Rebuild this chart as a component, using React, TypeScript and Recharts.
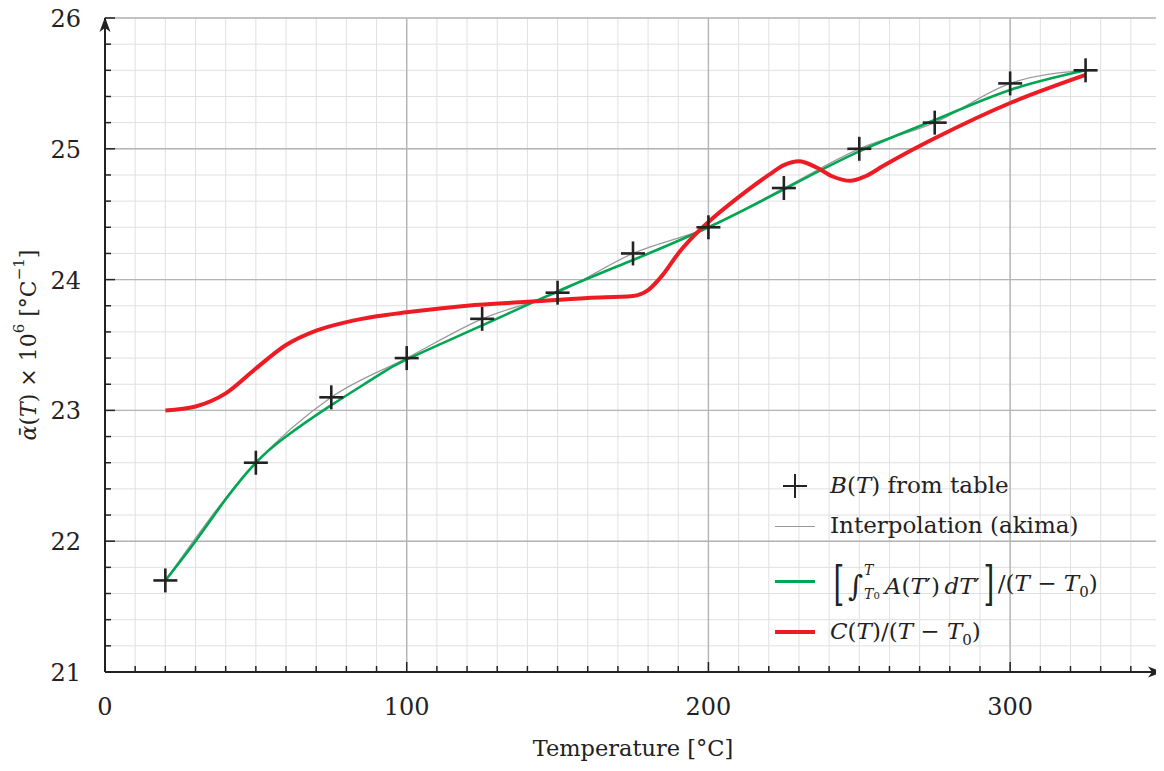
import React from 'react';
import {
  ComposedChart, Line, Scatter, XAxis, YAxis, CartesianGrid, ReferenceLine, ReferenceDot,
} from 'recharts';

// Table values B(T)
const tableT = [20, 50, 75, 100, 125, 150, 175, 200, 225, 250, 275, 300, 325];
const tableB = [21.7, 22.6, 23.1, 23.4, 23.7, 23.9, 24.2, 24.4, 24.7, 25.0, 25.2, 25.5, 25.6];

// Integral mean (green)
const greenT = [20, 30, 40, 50, 60, 75, 90, 100, 125, 150, 175, 200, 225, 250, 275, 300, 325];
const greenV = [21.7, 22.0, 22.32, 22.6, 22.8, 23.04, 23.26, 23.39, 23.65, 23.91, 24.15, 24.4, 24.69, 24.98, 25.22, 25.45, 25.6];

// C(T)/(T-T0) (red)
const redT = [20, 30, 40, 50, 60, 70, 80, 90, 100, 120, 140, 160, 175, 180, 185, 190, 195, 200, 210, 220, 225, 230, 236, 241, 247, 252, 258, 265, 275, 300, 325];
const redV = [23.0, 23.03, 23.13, 23.32, 23.5, 23.61, 23.675, 23.72, 23.75, 23.8, 23.83, 23.86, 23.875, 23.92, 24.04, 24.2, 24.33, 24.44, 24.63, 24.8, 24.875, 24.905, 24.855, 24.79, 24.755, 24.79, 24.87, 24.96, 25.08, 25.35, 25.565];

const xTicks = [0, 10, 20, 30, 40, 50, 60, 70, 80, 90, 100, 110, 120, 130, 140, 150, 160, 170, 180, 190, 200, 210, 220, 230, 240, 250, 260, 270, 280, 290, 300, 310, 320, 330, 340];
const yTicks = [21, 21.2, 21.4, 21.6, 21.8, 22, 22.2, 22.4, 22.6, 22.8, 23, 23.2, 23.4, 23.6, 23.8, 24, 24.2, 24.4, 24.6, 24.8, 25, 25.2, 25.4, 25.6, 25.8, 26];
const xMajor = [100, 200, 300];
const yMajor = [22, 23, 24, 25, 26];

const tableData = tableT.map((T, i) => ({ T, B: tableB[i] }));
const greenData = greenT.map((T, i) => ({ T, v: greenV[i] }));
const redData = redT.map((T, i) => ({ T, v: redV[i] }));

const FONT = '"DejaVu Serif", "Liberation Serif", serif';
const INK = '#222';

const XTick = (props: any) => {
  const { x, y, payload } = props;
  const v = payload.value;
  const major = Math.abs(v % 100) < 1e-6;
  return (
    <g>
      <line x1={x} x2={x} y1={y} y2={y - (major ? 10 : 6)} stroke={INK} strokeWidth={1.5} />
      {major && (
        <text x={x} y={y + 43} textAnchor="middle" fontSize={24} fill={INK} fontFamily={FONT}>{v}</text>
      )}
    </g>
  );
};

const YTick = (props: any) => {
  const { x, y, payload } = props;
  const v = payload.value;
  const major = Math.abs(v - Math.round(v)) < 1e-6;
  return (
    <g>
      <line x1={x} x2={x + (major ? 10 : 6)} y1={y} y2={y} stroke={INK} strokeWidth={1.5} />
      {major && (
        <text x={x - 24} y={y + 9} textAnchor="end" fontSize={24} fill={INK} fontFamily={FONT}>{Math.round(v)}</text>
      )}
    </g>
  );
};

const PlusShape = (props: any) => {
  const { cx, cy } = props;
  return (
    <g>
      <line x1={cx - 12} x2={cx + 12} y1={cy} y2={cy} stroke={INK} strokeWidth={2.6} />
      <line x1={cx} x2={cx} y1={cy - 12} y2={cy + 12} stroke={INK} strokeWidth={2.6} />
    </g>
  );
};

const ArrowRight = (props: any) => {
  const { cx, cy } = props;
  return <polygon points={`${cx + 2},${cy} ${cx - 13},${cy - 5.5} ${cx - 9},${cy} ${cx - 13},${cy + 5.5}`} fill={INK} />;
};
const ArrowUp = (props: any) => {
  const { cx, cy } = props;
  return <polygon points={`${cx},${cy - 1} ${cx - 5.5},${cy + 14} ${cx},${cy + 10} ${cx + 5.5},${cy + 14}`} fill={INK} />;
};

const XLabel = (props: any) => {
  const vb = props.viewBox || {};
  const cx = (vb.x ?? 105) + (vb.width ?? 1056) / 2;
  const y = (vb.y ?? 672) + 84;
  return (
    <text x={cx} y={y} textAnchor="middle" fontSize={22.5} fill={INK} fontFamily={FONT}>
      Temperature [°C]
    </text>
  );
};

const YLabel = (props: any) => {
  const vb = props.viewBox || {};
  const cy = (vb.y ?? 18) + (vb.height ?? 654) / 2;
  const x = 28;
  return (
    <text x={x} y={cy} transform={`rotate(-90, ${x}, ${cy})`} textAnchor="middle" dominantBaseline="central" fontSize={22} fill={INK} fontFamily={FONT}>
      <tspan fontStyle="italic">{'\u03B1\u0304'}</tspan>
      <tspan>(</tspan><tspan fontStyle="italic">T</tspan><tspan>) × 10</tspan>
      <tspan fontSize={15} dy={-9}>6</tspan>
      <tspan dy={9}> [°C</tspan>
      <tspan fontSize={15} dy={-9}>−1</tspan>
      <tspan dy={9}>]</tspan>
    </text>
  );
};

const legendText: React.CSSProperties = {
  position: 'absolute', left: 830, fontFamily: FONT, fontSize: 23, color: INK, whiteSpace: 'nowrap', lineHeight: 1,
};

const Legend = () => (
  <div style={{ position: 'absolute', left: 0, top: 0, width: 0, height: 0 }}>
    {/* plus marker */}
    <div style={{ position: 'absolute', left: 783, top: 474, width: 24, height: 24 }}>
      <div style={{ position: 'absolute', left: 0, top: 10.7, width: 24, height: 2.6, background: INK }} />
      <div style={{ position: 'absolute', left: 10.7, top: 0, width: 2.6, height: 24, background: INK }} />
    </div>
    <div style={{ ...legendText, top: 474 }}>
      <i>B</i>(<i>T</i>) from table
    </div>
    {/* gray */}
    <div style={{ position: 'absolute', left: 775, top: 526, width: 40, height: 1.2, background: '#999' }} />
    <div style={{ ...legendText, top: 514 }}>Interpolation (akima)</div>
    {/* green */}
    <div style={{ position: 'absolute', left: 775, top: 580, width: 40, height: 2.6, background: '#00a651' }} />
    <div style={{ ...legendText, top: 565, display: 'flex', alignItems: 'center' }}>
      <span style={{ fontSize: 46, lineHeight: 1, transform: 'scaleX(0.6)', display: 'inline-block', marginTop: -4, fontWeight: 300 }}>[</span>
      <span style={{ fontSize: 29, fontStyle: 'italic', lineHeight: 1 }}>∫</span>
      <span style={{ display: 'inline-flex', flexDirection: 'column', fontSize: 14, lineHeight: 1, marginLeft: 1, marginRight: 5 }}>
        <i style={{ marginTop: -8 }}>T</i>
        <span style={{ marginTop: 10 }}><i>T</i><span style={{ fontSize: 10 }}>0</span></span>
      </span>
      <span><i>A</i>(<i>T</i>′)&thinsp;<i>dT</i>′</span>
      <span style={{ fontSize: 46, lineHeight: 1, transform: 'scaleX(0.6)', display: 'inline-block', marginTop: -4, fontWeight: 300 }}>]</span>
      <span>/(<i>T</i> − <i>T</i><sub style={{ fontSize: 15 }}>0</sub>)</span>
    </div>
    {/* red */}
    <div style={{ position: 'absolute', left: 775, top: 630, width: 40, height: 4, background: '#ed1c24' }} />
    <div style={{ ...legendText, top: 620 }}>
      <i>C</i>(<i>T</i>)/(<i>T</i> − <i>T</i><sub style={{ fontSize: 15 }}>0</sub>)
    </div>
  </div>
);

export default function App() {
  return (
    <div style={{ position: 'relative', width: 1164, height: 771, marginTop: -8, marginLeft: -8, background: '#fff' }}>
      <ComposedChart width={1164} height={771} margin={{ top: 18, right: 3, bottom: 0, left: 0 }}>
        <CartesianGrid stroke="#e0e0e0" strokeWidth={1} verticalValues={xTicks} horizontalValues={yTicks} />
        {xMajor.map((v) => (
          <ReferenceLine key={'xm' + v} x={v} stroke="#b4b4b4" strokeWidth={1.4} />
        ))}
        {yMajor.map((v) => (
          <ReferenceLine key={'ym' + v} y={v} stroke="#b4b4b4" strokeWidth={1.4} />
        ))}
        <XAxis
          dataKey="T"
          type="number"
          domain={[0, 350]}
          ticks={xTicks}
          interval={0}
          allowDataOverflow
          height={99}
          tickSize={0}
          tickMargin={0}
          tickLine={false}
          axisLine={{ stroke: INK, strokeWidth: 2 }}
          tick={<XTick />}
          label={<XLabel />}
        />
        <YAxis
          type="number"
          domain={[21, 26]}
          ticks={yTicks}
          interval={0}
          allowDataOverflow
          width={105}
          tickSize={0}
          tickMargin={0}
          tickLine={false}
          axisLine={{ stroke: INK, strokeWidth: 2 }}
          tick={<YTick />}
          label={<YLabel />}
        />
        <Line data={tableData} dataKey="B" type="monotone" stroke="#999" strokeWidth={1.3} dot={false} isAnimationActive={false} />
        <Line data={greenData} dataKey="v" type="natural" stroke="#00a651" strokeWidth={2.6} dot={false} isAnimationActive={false} />
        <Line data={redData} dataKey="v" type="monotone" stroke="#ed1c24" strokeWidth={4} dot={false} isAnimationActive={false} />
        <Scatter data={tableData} dataKey="B" shape={<PlusShape />} isAnimationActive={false} />
        <ReferenceDot x={350} y={21} r={0} ifOverflow="visible" shape={<ArrowRight />} />
        <ReferenceDot x={0} y={26} r={0} ifOverflow="visible" shape={<ArrowUp />} />
      </ComposedChart>
      <Legend />
    </div>
  );
}
